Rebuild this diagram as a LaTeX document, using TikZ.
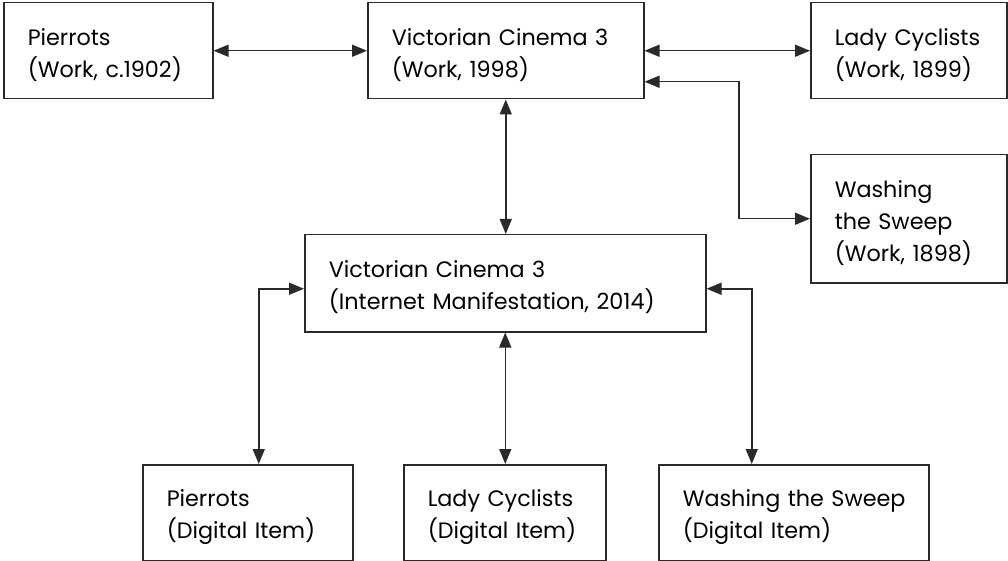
\documentclass[tikz,border=0pt]{standalone}
\usepackage{fontspec}
\setmainfont{Poppins}
\usetikzlibrary{arrows.meta}
\definecolor{linec}{HTML}{2A2A2A}
\newcommand{\fl}{\rule{0pt}{25pt}}
\tikzset{
  box/.style={draw=linec, line width=1.5pt, rectangle, anchor=north west, inner xsep=24pt, inner ysep=0pt, align=left, font=\fontsize{22.3}{32}\selectfont, text=black},
  conn/.style={draw=linec, line width=1.5pt, {Triangle[length=15pt,width=12pt]}-{Triangle[length=15pt,width=12pt]}}
}
\begin{document}
\begin{tikzpicture}[x=1pt,y=-1pt]
\useasboundingbox (0,0) rectangle (1008,561);
\node[box, minimum width=209pt, minimum height=96pt, text width=161pt] (pw) at (3,2) {\fl Pierrots\\(Work, c.1902)};
\node[box, minimum width=276pt, minimum height=96pt, text width=228pt] (vw) at (367,2) {\fl Victorian Cinema 3\\(Work, 1998)};
\node[box, minimum width=196pt, minimum height=96pt, text width=148pt] (lw) at (810,2) {\fl Lady Cyclists\\(Work, 1899)};
\node[box, minimum width=196pt, minimum height=128pt, text width=148pt] (ww) at (810,154) {\fl Washing\\the Sweep\\(Work, 1898)};
\node[box, minimum width=401pt, minimum height=97pt, text width=353pt] (im) at (304,234) {\fl Victorian Cinema 3\\(Internet Manifestation, 2014)};
\node[box, minimum width=210pt, minimum height=96pt, text width=162pt] (pd) at (142,464) {\fl Pierrots\\(Digital Item)};
\node[box, minimum width=202pt, minimum height=96pt, text width=154pt] (ld) at (403,464) {\fl Lady Cyclists\\(Digital Item)};
\node[box, minimum width=270pt, minimum height=96pt, text width=222pt] (wd) at (658,464) {\fl \mbox{Washing the Sweep}\\(Digital Item)};
\coordinate (k1) at (739,150);
\draw[conn] (pw.east) -- (vw.west);
\draw[conn] (vw.east) -- (lw.west);
\draw[conn] ([yshift=-31pt]vw.east) -| (k1) |- (ww.west);
\draw[conn] (vw.south) -- (vw.south |- im.north);
\draw[conn] ([yshift=-5.5pt]im.west) -| ([xshift=11pt]pd.north);
\draw[conn] (im.south) -- (im.south |- ld.north);
\draw[conn] ([yshift=-5.5pt]im.east) -| ([xshift=-42pt]wd.north);
\end{tikzpicture}
\end{document}
